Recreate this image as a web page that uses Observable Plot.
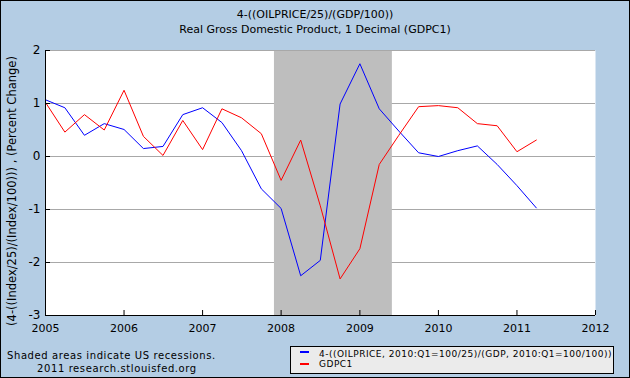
<!DOCTYPE html>
<html>
<head>
<meta charset="utf-8">
<script src="https://cdn.jsdelivr.net/npm/d3@7"></script>
<script src="https://cdn.jsdelivr.net/npm/@observablehq/plot@0.6"></script>
<style>
  body { margin: 0; background: #fff; }
  #wrap { position: relative; width: 630px; height: 378px; background: #b4cde4; overflow: hidden;
          font-family: "DejaVu Sans", sans-serif; color: #000; }
  #wrap svg { position: absolute; left: 0; top: 0; }
  .t { position: absolute; white-space: nowrap; line-height: 1; }
  #border { position: absolute; left: 0; top: 0; width: 630px; height: 378px; box-sizing: border-box;
            border: 1px solid #000; pointer-events: none; }
  #legend { position: absolute; left: 290px; top: 346px; width: 324px; height: 28px; box-sizing: border-box;
            border: 1px solid #000; background: #ebebeb; }
  .sw { position: absolute; left: 9px; width: 9px; height: 2px; }
  .lt { position: absolute; left: 28px; font-size: 9px; letter-spacing: 0.5px; white-space: nowrap; line-height: 1; }
</style>
</head>
<body>
<div id="wrap">
  <div id="chart"></div>
  <div class="t" id="title1" style="left:0;width:630px;text-align:center;top:9px;font-size:11px;"></div>
  <div class="t" id="title2" style="left:0;width:630px;text-align:center;top:24px;font-size:11px;"></div>
  <div class="t" id="ytitle" style="left:13px;top:191px;font-size:11.5px;transform:translate(-50%,-50%) rotate(-90deg);"></div>
  <div class="t" id="note1" style="left:7px;top:351px;font-size:10px;letter-spacing:0.6px;"></div>
  <div class="t" id="note2" style="left:37px;top:364px;font-size:10px;letter-spacing:0.6px;"></div>
  <div id="legend">
    <div class="sw" id="sw0" style="top:4px;"></div>
    <div class="lt" id="lt0" style="top:3px;"></div>
    <div class="sw" id="sw1" style="top:16px;"></div>
    <div class="lt" id="lt1" style="top:13px;"></div>
  </div>
  <div id="border"></div>
</div>
<script>
// ---- data ----
const quarters = [
  "2005-01-01","2005-04-01","2005-07-01","2005-10-01",
  "2006-01-01","2006-04-01","2006-07-01","2006-10-01",
  "2007-01-01","2007-04-01","2007-07-01","2007-10-01",
  "2008-01-01","2008-04-01","2008-07-01","2008-10-01",
  "2009-01-01","2009-04-01","2009-07-01","2009-10-01",
  "2010-01-01","2010-04-01","2010-07-01","2010-10-01",
  "2011-01-01","2011-04-01"
];
const oilGdp = [
  1.07, 0.92, 0.40, 0.62,
  0.51, 0.15, 0.19, 0.79,
  0.92, 0.64, 0.11, -0.61,
  -0.98, -2.25, -1.96, 0.99,
  1.75, 0.90, 0.48, 0.07,
  0.00, 0.11, 0.20, -0.15,
  -0.55, -0.97
];
const gdpc1 = [
  1.02, 0.46, 0.79, 0.50,
  1.25, 0.38, 0.02, 0.68,
  0.13, 0.90, 0.73, 0.43,
  -0.45, 0.31, -0.93, -2.31,
  -1.74, -0.15, 0.40, 0.94,
  0.96, 0.92, 0.62, 0.58,
  0.09, 0.31
];
const recessionStart = ["2007-12-01"];
const recessionEnd = ["2009-06-01"];
const yTicks = [-3, -2, -1, 0, 1, 2];
const yTickLabels = ["-3", "-2", "-1", "0", "1", "2"];
const yGrid = [-2, -1, 0, 1];
const xTickLabels = ["2005", "2006", "2007", "2008", "2009", "2010", "2011", "2012"];
const seriesNames = ["4-((OILPRICE, 2010:Q1=100/25)/(GDP, 2010:Q1=100/100))", "GDPC1"];
const seriesColors = ["#0000ff", "#ff0000"];
const titleLines = ["4-((OILPRICE/25)/(GDP/100))", "Real Gross Domestic Product, 1 Decimal (GDPC1)"];
const yTitle = "(4-((Index/25)/(Index/100))) , (Percent Change)";
const notes = ["Shaded areas indicate US recessions.", "2011 research.stlouisfed.org"];

// ---- build ----
const parse = d3.utcParse("%Y-%m-%d");
const rows = quarters.map((q, i) => ({date: parse(q), oil: oilGdp[i], gdp: gdpc1[i]}));
const recessions = recessionStart.map((s, i) => ({start: parse(s), end: parse(recessionEnd[i])}));
const xTicks = xTickLabels.map(y => new Date(Date.UTC(+y, 0, 1)));
const yLabelOf = new Map(yTicks.map((v, i) => [v, yTickLabels[i]]));

const chart = Plot.plot({
  width: 630,
  height: 378,
  marginLeft: 45,
  marginRight: 35,
  marginTop: 50,
  marginBottom: 63,
  style: {background: "transparent", fontFamily: "DejaVu Sans, sans-serif", color: "#000", overflow: "visible"},
  x: {type: "utc", domain: [xTicks[0], xTicks[xTicks.length - 1]], label: null},
  y: {domain: [yTicks[0], yTicks[yTicks.length - 1]], label: null},
  marks: [
    Plot.frame({fill: "white", stroke: null}),
    Plot.ruleY(yGrid, {stroke: "#a8a8a8", strokeWidth: 1}),
    Plot.rect(recessions, {x1: "start", x2: "end", fill: "#bebebe"}),
    Plot.ruleY([yTicks[yTicks.length - 1]], {stroke: "#a8a8a8", strokeWidth: 1}),
    Plot.line(rows, {x: "date", y: "oil", stroke: seriesColors[0], strokeWidth: 1}),
    Plot.line(rows, {x: "date", y: "gdp", stroke: seriesColors[1], strokeWidth: 1}),
    Plot.ruleX([xTicks[0]], {stroke: "#000"}),
    Plot.ruleY([yTicks[0]], {stroke: "#000"}),
    Plot.tickY(yTicks, {y: d => d, stroke: "#000", insetRight: 545}),
    Plot.tickX(xTicks, {x: d => d, stroke: "#000", insetTop: 260}),
    Plot.axisY(yTicks, {tickSize: 0, tickPadding: 5, fontSize: 12, tickFormat: d => yLabelOf.get(d), label: null}),
    Plot.axisX(xTicks, {tickSize: 0, tickPadding: 9, fontSize: 11, tickFormat: d3.utcFormat("%Y"), label: null})
  ]
});
document.getElementById("chart").appendChild(chart);

document.getElementById("title1").textContent = titleLines[0];
document.getElementById("title2").textContent = titleLines[1];
document.getElementById("ytitle").textContent = yTitle;
document.getElementById("note1").textContent = notes[0];
document.getElementById("note2").textContent = notes[1];
seriesNames.forEach((n, i) => {
  document.getElementById("lt" + i).textContent = n;
  document.getElementById("sw" + i).style.background = seriesColors[i];
});
</script>
</body>
</html>
